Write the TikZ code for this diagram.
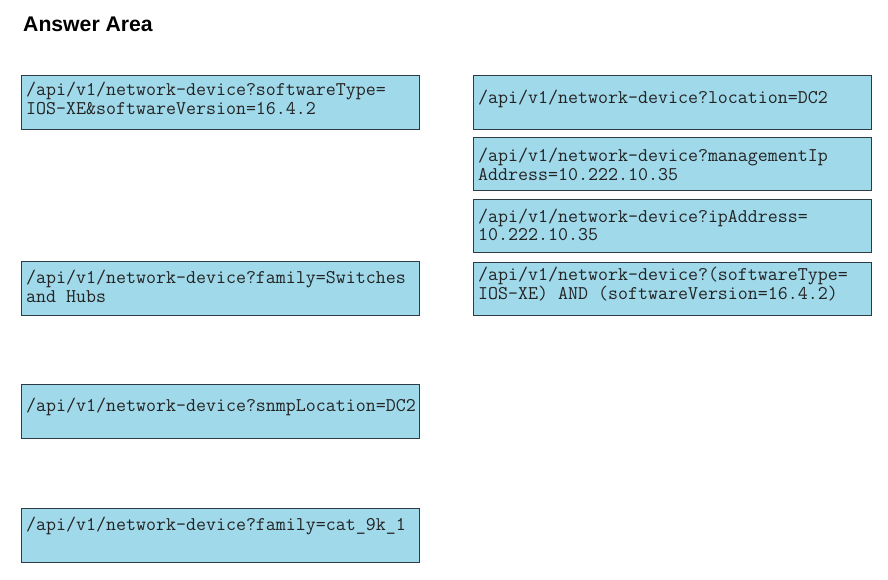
\documentclass[tikz,border=0pt]{standalone}
\usepackage{fontspec}
\setmainfont{Liberation Sans}
\definecolor{boxfill}{RGB}{160,217,234}
\definecolor{boxline}{RGB}{45,60,68}
\definecolor{txtcol}{RGB}{35,35,35}
\tikzset{
  answerbox/.style={draw=boxline, line width=1.4pt, fill=boxfill, rectangle,
    minimum width=398pt, minimum height=54pt, anchor=north west, inner sep=0pt},
  code/.style={anchor=base west, inner sep=0pt, text=txtcol,
    font=\ttfamily\fontsize{19.4}{22}\selectfont},
  titletext/.style={anchor=base west, inner sep=0pt, text=black,
    font=\bfseries\fontsize{21.2}{24}\selectfont}
}
\begin{document}
\begin{tikzpicture}[x=1pt,y=-1pt]
\path[fill=white] (0,0) rectangle (888,579);
\useasboundingbox (0,0) rectangle (888,579);

\node[titletext] (title) at (23,31) {Answer Area};

% left column
\node[answerbox] (L1) at (20.7,75) {};
\node[answerbox] (L2) at (20.7,261) {};
\node[answerbox] (L3) at (20.7,384) {};
\node[answerbox] (L4) at (20.7,508) {};

% right column
\node[answerbox] (R1) at (472.7,75) {};
\node[answerbox, minimum height=53pt] (R2) at (472.7,137) {};
\node[answerbox, minimum height=53pt] (R3) at (472.7,199) {};
\node[answerbox, minimum height=53pt] (R4) at (472.7,262) {};

% texts left
\node[code] (L1a) at (26,95.5) {/api/v1/network-device?softwareType=};
\node[code] (L1b) at (26,114.5) {IOS-XE\&softwareVersion=16.4.2};
\node[code] (L2a) at (26,283) {/api/v1/network-device?family=Switches};
\node[code] (L2b) at (26,302) {and Hubs};
\node[code] (L3a) at (26,411) {/api/v1/network-device?snmpLocation=DC2};
\node[code] (L4a) at (26,530) {/api/v1/network-device?family=cat\_9k\_1};

% texts right
\node[code] (R1a) at (478,103) {/api/v1/network-device?location=DC2};
\node[code] (R2a) at (478,161) {/api/v1/network-device?managementIp};
\node[code] (R2b) at (478,180) {Address=10.222.10.35};
\node[code] (R3a) at (478,222) {/api/v1/network-device?ipAddress=};
\node[code] (R3b) at (478,240) {10.222.10.35};
\node[code] (R4a) at (478,280) {/api/v1/network-device?(softwareType=};
\node[code] (R4b) at (478,299) {IOS-XE) AND (softwareVersion=16.4.2)};
\end{tikzpicture}
\end{document}
